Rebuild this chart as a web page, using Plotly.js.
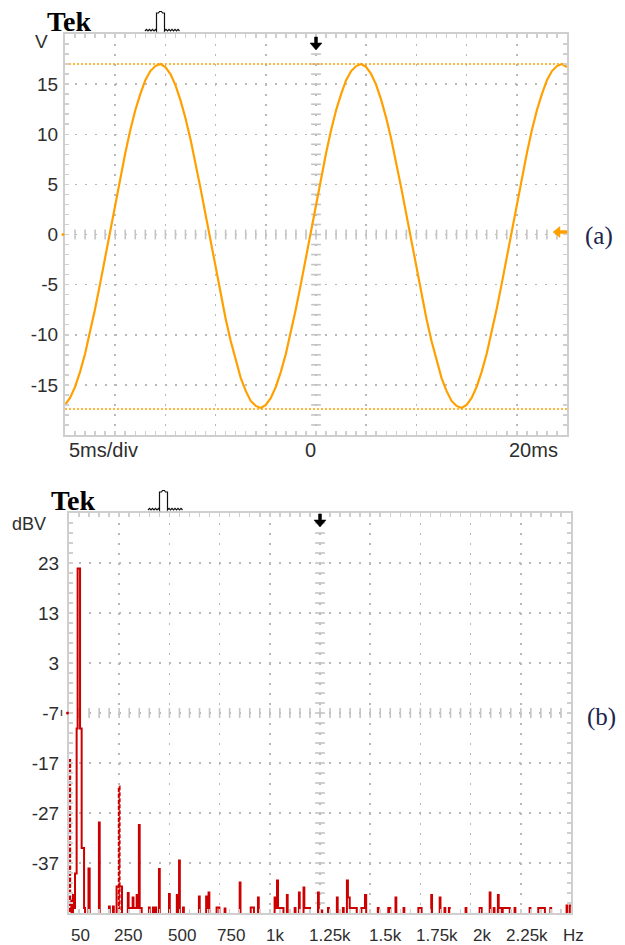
<!DOCTYPE html>
<html>
<head>
<meta charset="utf-8">
<script src="https://cdn.plot.ly/plotly-3.0.1.min.js"></script>
<style>
  html, body { margin: 0; padding: 0; background: #ffffff; }
  #chart { width: 625px; height: 945px; }
</style>
</head>
<body>
<div id="chart"></div>
<script>
// ---------------- DATA ----------------
// (a) time-domain trace: time in ms, voltage in V (read from the screen)
const timeMs = [
  -25,-24.5,-24,-23.5,-23,-22.5,-22,-21.5,-21,-20.5,
  -20,-19.5,-19,-18.5,-18,-17.5,-17,-16.5,-16,-15.5,
  -15,-14.5,-14,-13.5,-13,-12.5,-12,-11.5,-11,-10.5,
  -10,-9.5,-9,-8.5,-8,-7.5,-7,-6.5,-6,-5.5,
  -5,-4.5,-4,-3.5,-3,-2.5,-2,-1.5,-1,-0.5,
  0,0.5,1,1.5,2,2.5,3,3.5,4,4.5,
  5,5.5,6,6.5,7,7.5,8,8.5,9,9.5,
  10,10.5,11,11.5,12,12.5,13,13.5,14,14.5,
  15,15.5,16,16.5,17,17.5,18,18.5,19,19.5,
  20,20.5,21,21.5,22,22.5,23,23.5,24,24.5,25
];
const voltsV = [
  -17.0,-16.3,-15.2,-13.7,-11.9,-9.8,-7.4,-4.9,-2.3,0.4,
  3.1,5.7,8.1,10.4,12.4,14.0,15.4,16.3,16.8,17.0,
  16.7,16.0,14.9,13.4,11.6,9.5,7.2,4.6,2.0,-0.7,
  -3.3,-5.9,-8.4,-10.6,-12.6,-14.3,-15.6,-16.6,-17.1,-17.3,
  -17.0,-16.3,-15.2,-13.7,-11.9,-9.8,-7.4,-4.9,-2.3,0.4,
  3.1,5.7,8.1,10.4,12.4,14.0,15.4,16.3,16.8,17.0,
  16.7,16.0,14.9,13.4,11.6,9.5,7.2,4.6,2.0,-0.7,
  -3.3,-5.9,-8.4,-10.6,-12.6,-14.3,-15.6,-16.6,-17.1,-17.3,
  -17.0,-16.3,-15.2,-13.7,-11.9,-9.8,-7.4,-4.9,-2.3,0.4,
  3.1,5.7,8.1,10.4,12.4,14.0,15.4,16.3,16.8,17.0,16.7
];
// horizontal cursor levels (V)
const cursorLevels = [17.0, -17.4];
const timeSpan = [-25, 25];

// axis labels (a)
const voltTicks = [15, 10, 5, 0, -5, -10, -15];
const timeGrid = [-20, -15, -10, -5, 0, 5, 10, 15, 20];

// (b) spectrum trace: frequency (Hz) and level (dBV); -60 = below screen floor
const specHz = [
  6, 12, 16, 20, 26, 30, 38, 43, 55, 63, 75, 80,
  97, 103, 149, 153, 199, 203, 219, 223, 237, 264,
  293, 297, 317, 321, 337, 341, 348, 352, 362,
  398, 402, 418, 422, 430, 434, 448, 452, 498, 502,
  537, 541, 548, 552, 568, 572,
  647, 651, 683, 690, 695, 699, 735, 749, 775, 779,
  850, 854, 905, 921, 941, 945,
  1024, 1029, 1036, 1041, 1068, 1085, 1089,
  1124, 1128, 1145, 1149, 1168, 1172, 1200,
  1240, 1244, 1257, 1261, 1290, 1294,
  1334, 1338, 1364, 1368, 1384, 1389, 1398, 1433,
  1456, 1474, 1480, 1538, 1542, 1590, 1600, 1626, 1630, 1666, 1670,
  1740, 1756, 1804, 1808, 1846, 1850, 1870, 1874, 1892, 1896,
  1975, 1979, 2045, 2055, 2095, 2099, 2115, 2119, 2136, 2140, 2150, 2160, 2195, 2219, 2223,
  2294, 2298, 2337, 2370, 2397, 2401, 2478, 2481, 2494, 2500
];
const specDb = [
  -60, -44.5, -60, -43.4, -46, -39.1, -10.1, 21.9, -10.1, -34, -46, -60,
  -38.1, -60, -28.9, -60, -45.7, -60, -45.7, -60, -41.7, -60,
  -43.0, -46, -43.9, -46, -43.4, -46, -29.4, -46, -60,
  -45.9, -60, -45.9, -60, -45.9, -60, -38.2, -60, -43.2, -60,
  -43.4, -60, -36.5, -60, -45.9, -60,
  -43.7, -60, -43.7, -46, -42.9, -60, -45.9, -60, -46.1, -60,
  -40.9, -60, -45.9, -60, -43.9, -60,
  -43.9, -46, -40.5, -46, -60, -43.4, -60,
  -46, -60, -42.9, -60, -41.9, -46, -60,
  -42.9, -60, -46.5, -60, -46, -60,
  -43.9, -60, -46, -60, -40.5, -43.9, -46, -60,
  -46, -43.4, -60, -46, -60, -46, -60, -43.9, -60, -46, -60,
  -46, -60, -43.4, -60, -43.9, -60, -46, -60, -46, -60,
  -46, -60, -46, -60, -42.9, -60, -46, -60, -43.4, -46, -60, -46, -60, -46, -60,
  -46, -60, -46, -60, -46, -60, -45.5, -60, -45.5, -45.5
];
// bins drawn broken (dashed) on the screen: DC and 5th harmonic
const dashHz = [4, 4, 6, null, 248, 248, 252];
const dashDb = [-60, -16.4, -60, null, -60, -21.7, -60];

// axis labels (b)
const dbTicks = [23, 13, 3, -7, -17, -27, -37];
const freqTickVals = [50, 250, 500, 750, 1000, 1250, 1500, 1750, 2000, 2250];
const freqTickText = ['50', '250', '500', '750', '1k', '1.25k', '1.5k', '1.75k', '2k', '2.25k'];
const freqGrid = [250, 500, 750, 1000, 1250, 1500, 1750, 2000, 2250];

// ---------------- LAYOUT HELPERS ----------------
const W = 625, H = 945;
const px = x => x / W;
const py = y => 1 - y / H;

const ORANGE = '#ffa000';
const RED = '#cc0000';
const GRID = '#b8b8b8';
const FRAME = '#cfcfcf';
const TICKC = '#c4c4c4';
const TXT = '#2e2e2e';
const SANS = 'Liberation Sans, Arial, sans-serif';
const SERIF = 'Liberation Serif, Times New Roman, serif';

function frameAxis(extra) {
  return Object.assign({
    showline: true, linecolor: FRAME, linewidth: 2, mirror: 'allticks',
    showgrid: true, gridcolor: GRID, gridwidth: 1.5, griddash: '2px,8px',
    zeroline: false, ticks: 'inside', ticklen: 4, tickwidth: 1.5, tickcolor: FRAME,
    fixedrange: true, tickmode: 'array'
  }, extra);
}

const layout = {
  width: W, height: H,
  margin: {l: 0, r: 0, t: 0, b: 0},
  paper_bgcolor: '#ffffff', plot_bgcolor: '#ffffff',
  showlegend: false,
  xaxis: frameAxis({
    domain: [px(65), px(567)], anchor: 'y', range: timeSpan,
    tickvals: timeGrid, showticklabels: false,
    minor: {tickmode: 'linear', tick0: 0, dtick: 1, ticks: 'inside', ticklen: 4, tickwidth: 1.5, tickcolor: FRAME, showgrid: false}
  }),
  yaxis: frameAxis({
    domain: [py(435), py(34)], anchor: 'x', range: [-20, 20],
    tickvals: voltTicks, ticktext: voltTicks.map(String),
    tickfont: {family: SANS, size: 19, color: TXT}, ticklabelstandoff: 1,
    minor: {tickmode: 'linear', tick0: 0, dtick: 1, ticks: 'inside', ticklen: 4, tickwidth: 1.5, tickcolor: FRAME, showgrid: false}
  }),
  xaxis2: frameAxis({
    domain: [px(69), px(571)], anchor: 'y2', range: [0, 2500],
    tickvals: freqGrid, showticklabels: false,
    minor: {tickmode: 'linear', tick0: 0, dtick: 50, ticks: 'inside', ticklen: 4, tickwidth: 1.5, tickcolor: FRAME, showgrid: false}
  }),
  yaxis2: frameAxis({
    domain: [py(913), py(513)], anchor: 'x2', range: [-47, 33],
    tickvals: dbTicks, ticktext: dbTicks.map(String),
    tickfont: {family: SANS, size: 19, color: TXT}, ticklabelstandoff: 4,
    minor: {tickmode: 'linear', tick0: 3, dtick: 2, ticks: 'inside', ticklen: 4, tickwidth: 1.5, tickcolor: FRAME, showgrid: false}
  }),
  shapes: [],
  annotations: []
};

// ---------- decorative glyphs (screen icons) ----------
function pathStr(pts, close) {
  return pts.map((p, i) => (i ? 'L' : 'M') + px(p[0]).toFixed(5) + ',' + py(p[1]).toFixed(5)).join(' ') + (close ? ' Z' : '');
}
function trigIcon(ox, oy, h) {
  const pts = [];
  for (let k = 0; k <= 7; k++) pts.push([ox + k * 1.5, oy - (k % 2 ? 1.6 : 0)]);
  pts.push([ox + 11.5, oy], [ox + 11.5, oy - h], [ox + 13.5, oy - h], [ox + 14.5, oy - h - 1.5],
           [ox + 16.5, oy - h - 1.5], [ox + 17.5, oy - h], [ox + 19.5, oy - h], [ox + 19.5, oy]);
  for (let k = 1; k <= 10; k++) pts.push([ox + 19.5 + k * 1.5, oy - (k % 2 ? 1.6 : 0)]);
  return {type: 'path', xref: 'paper', yref: 'paper', path: pathStr(pts, false),
          line: {color: '#111', width: 1.2}};
}
function downArrow(cx, top) {
  const pts = [[cx - 1.5, top], [cx + 1.5, top], [cx + 1.5, top + 6], [cx + 6, top + 6],
               [cx, top + 13], [cx - 6, top + 6], [cx - 1.5, top + 6]];
  return {type: 'path', xref: 'paper', yref: 'paper', path: pathStr(pts, true),
          fillcolor: '#000', line: {color: '#000', width: 0.5}};
}
layout.shapes.push(trigIcon(145, 31, 18));
layout.shapes.push(trigIcon(148, 510, 18));
layout.shapes.push(downArrow(316, 37));
layout.shapes.push(downArrow(320, 514));
// channel-1 ground marker (orange arrow on right, dot on left)
layout.shapes.push({type: 'path', xref: 'paper', yref: 'paper',
  path: pathStr([[553, 232], [560, 226.5], [560, 230.5], [567, 230.5], [567, 233.5], [560, 233.5], [560, 237.5]], true),
  fillcolor: ORANGE, line: {color: ORANGE, width: 0.5}});
layout.shapes.push({type: 'circle', xref: 'paper', yref: 'paper',
  x0: px(61.5), x1: px(64.5), y0: py(236), y1: py(233), fillcolor: ORANGE, line: {width: 0}});
layout.shapes.push({type: 'circle', xref: 'paper', yref: 'paper',
  x0: px(66), x1: px(69), y0: py(714.5), y1: py(711.5), fillcolor: RED, line: {width: 0}});
layout.shapes.push({type: 'line', xref: 'paper', yref: 'paper',
  x0: px(61.5), x1: px(61.5), y0: py(716), y1: py(710), line: {color: '#555', width: 1.5}});

// ---------- texts ----------
const A = layout.annotations;
function txt(o) { A.push(Object.assign({showarrow: false, xref: 'paper', yref: 'paper'}, o)); }
txt({x: px(45), y: py(22), xanchor: 'left', yanchor: 'middle', text: '<b>Tek</b>', font: {family: SERIF, size: 28, color: '#000'}});
txt({x: px(49), y: py(500), xanchor: 'left', yanchor: 'middle', text: '<b>Tek</b>', font: {family: SERIF, size: 28, color: '#000'}});
txt({x: px(41), y: py(41), xanchor: 'center', yanchor: 'middle', text: 'V', font: {family: SANS, size: 19, color: TXT}});
txt({x: px(29), y: py(524), xanchor: 'center', yanchor: 'middle', text: 'dBV', font: {family: SANS, size: 18, color: TXT}});
txt({x: px(599), y: py(236), xanchor: 'center', yanchor: 'middle', text: '(a)', font: {family: SERIF, size: 25, color: '#1b2550'}});
txt({x: px(601), y: py(717), xanchor: 'center', yanchor: 'middle', text: '(b)', font: {family: SERIF, size: 25, color: '#1b2550'}});
// time axis labels (a)
txt({x: px(103), y: py(450), xanchor: 'center', yanchor: 'middle', text: '5ms/div', font: {family: SANS, size: 20, color: TXT}});
A.push({showarrow: false, xref: 'x', yref: 'paper', x: 0, xshift: -6, y: py(450), xanchor: 'center', yanchor: 'middle', text: '0', font: {family: SANS, size: 20, color: TXT}});
A.push({showarrow: false, xref: 'x', yref: 'paper', x: 20, xshift: 17, y: py(450), xanchor: 'center', yanchor: 'middle', text: '20ms', font: {family: SANS, size: 20, color: TXT}});
// frequency axis labels (b) – the scope prints them a little right of each division
const freqLabelShift = [1, 9, 13, 11, 5, 10, 15, 17, 11, 6];
freqTickVals.forEach((v, i) => {
  A.push({showarrow: false, xref: 'x2', yref: 'paper', x: v, xshift: freqLabelShift[i], y: py(935),
          xanchor: 'center', yanchor: 'middle', text: freqTickText[i], font: {family: SANS, size: 17, color: TXT}});
});
txt({x: px(573), y: py(935), xanchor: 'center', yanchor: 'middle', text: 'Hz', font: {family: SANS, size: 17, color: TXT}});

// ---------- traces ----------
function centreTicks(xa, ya, xr, xstep, yr, ystep, xc, yc) {
  const hx = [], hy = [], vx = [], vy = [];
  for (let v = xr[0] + xstep; v < xr[1] - 1e-9; v += xstep) { hx.push(v); hy.push(yc); }
  for (let v = yr[0] + ystep; v < yr[1] - 1e-9; v += ystep) { vx.push(xc); vy.push(v); }
  return [
    {type: 'scatter', mode: 'markers', xaxis: xa, yaxis: ya, x: hx, y: hy, hoverinfo: 'skip',
     marker: {symbol: 'line-ns-open', size: 7, color: TICKC, line: {color: TICKC, width: 1.6}}},
    {type: 'scatter', mode: 'markers', xaxis: xa, yaxis: ya, x: vx, y: vy, hoverinfo: 'skip',
     marker: {symbol: 'line-ew-open', size: 7, color: TICKC, line: {color: TICKC, width: 1.6}}}
  ];
}

const traces = [];
traces.push(...centreTicks('x', 'y', timeSpan, 1, [-20, 20], 1, 0, 0));
traces.push(...centreTicks('x2', 'y2', [0, 2500], 50, [-47, 33], 2, 1250, -7));

cursorLevels.forEach(lv => traces.push({
  type: 'scatter', mode: 'lines', xaxis: 'x', yaxis: 'y', x: timeSpan, y: [lv, lv], hoverinfo: 'skip',
  line: {color: ORANGE, width: 1.5, dash: '2px,2px'}
}));
traces.push({type: 'scatter', mode: 'lines', xaxis: 'x', yaxis: 'y', x: timeMs, y: voltsV,
             line: {color: ORANGE, width: 2.2}});

traces.push({type: 'scatter', mode: 'lines', xaxis: 'x2', yaxis: 'y2', x: specHz, y: specDb,
             line: {color: RED, width: 2, shape: 'hv'}});
traces.push({type: 'scatter', mode: 'lines', xaxis: 'x2', yaxis: 'y2', x: dashHz, y: dashDb, connectgaps: false,
             line: {color: RED, width: 2, shape: 'hv', dash: '4px,2px'}});

Plotly.newPlot('chart', traces, layout, {staticPlot: true, displayModeBar: false});
</script>
</body>
</html>
